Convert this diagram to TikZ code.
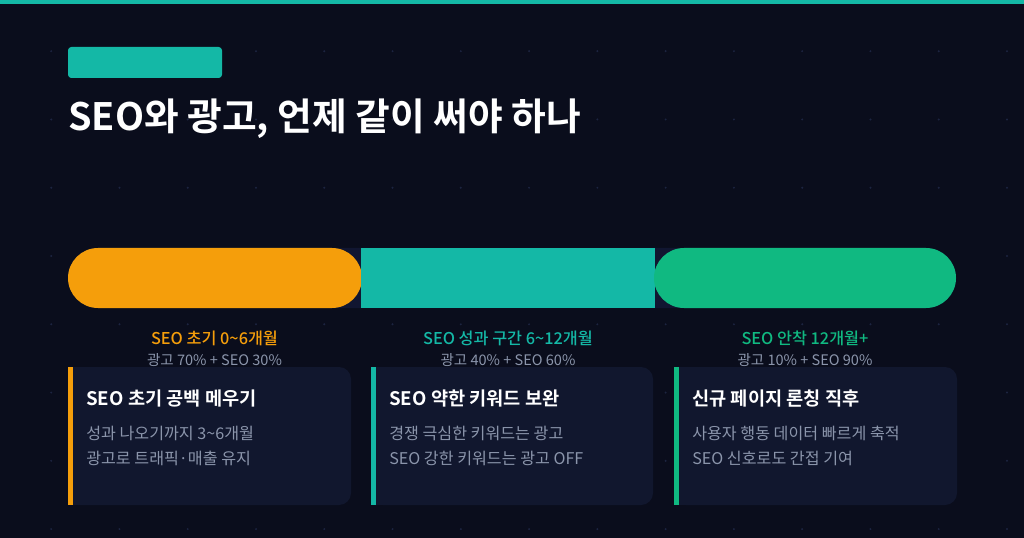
\documentclass[tikz,border=0pt]{standalone}
\usepackage{fontspec}
\setmainfont{Noto Sans CJK KR}[BoldFont={Noto Sans CJK KR Bold}]
\newfontfamily\medfont{Noto Sans CJK KR Medium}
\definecolor{bgc}{HTML}{0A0D1C}
\definecolor{dotc}{HTML}{1C2440}
\definecolor{trackc}{HTML}{111631}
\definecolor{cardc}{HTML}{11172E}
\definecolor{orangec}{HTML}{F59E0B}
\definecolor{tealc}{HTML}{14B8A6}
\definecolor{greenc}{HTML}{10B981}
\definecolor{grayc}{HTML}{8B95AB}
\tikzset{
  seglabel/.style={anchor=base, inner sep=0, font=\medfont\fontsize{12.2}{14}\selectfont},
  segsub/.style={anchor=base, inner sep=0, text=grayc, font=\fontsize{10.9}{13}\selectfont},
  cardtitle/.style={anchor=base west, inner sep=0, text=white, font=\bfseries\fontsize{14}{16}\selectfont},
  cardbody/.style={anchor=base west, inner sep=0, text=grayc, font=\fontsize{12.1}{14}\selectfont},
}
\begin{document}
\begin{tikzpicture}[x=0.75pt,y=-0.75pt]
\useasboundingbox (0,0) rectangle (1024,538);
\fill[bgc] (0,0) rectangle (1024,538);
% dot grid
\foreach \i in {0,...,14}{
  \foreach \j in {0,...,7}{
    \fill[dotc] ({51.2+68.27*\i},{51.2+68.27*\j}) circle (1.1);
  }
}
% top bar
\fill[tealc] (0,0) rectangle (1024,4);
% tag
\fill[tealc, rounded corners=2.5pt] (68,47) rectangle (222,78);
% title
\node[anchor=base west, inner sep=0, text=white, font=\bfseries\fontsize{28.3}{34}\selectfont] (title) at (68,131) {SEO와 광고, 언제 같이 써야 하나};
% timeline track
\fill[trackc, rounded corners=22.5pt] (68,248) rectangle (956,308);
\fill[orangec, rounded corners=22.5pt] (68,248) rectangle (362,308);
\fill[tealc] (361,248) rectangle (655,308);
\fill[greenc, rounded corners=22.5pt] (654,248) rectangle (956,308);
% segment labels
\node[seglabel, text=orangec] (l1) at (214.5,344) {SEO 초기 0\textasciitilde 6개월};
\node[segsub] (s1) at (214.5,365) {광고 70\% + SEO 30\%};
\node[seglabel, text=tealc] (l2) at (508,344) {SEO 성과 구간 6\textasciitilde 12개월};
\node[segsub] (s2) at (508,365) {광고 40\% + SEO 60\%};
\node[seglabel, text=greenc] (l3) at (805,344) {SEO 안착 12개월+};
\node[segsub] (s3) at (805,365) {광고 10\% + SEO 90\%};
% cards
\foreach \xa/\xb/\col in {68/351/orangec, 371/653/tealc, 674/957/greenc}{
  \fill[cardc, rounded corners=9pt] (\xa,367) rectangle (\xb,505);
  \fill[cardc] (\xa,367) rectangle (\xa+20,505);
  \fill[\col] (\xa,367) rectangle (\xa+4.5,505);
}
\node[cardtitle] (c1t) at (86,405) {SEO 초기 공백 메우기};
\node[cardbody] (c1a) at (86,439) {성과 나오기까지 3\textasciitilde 6개월};
\node[cardbody] (c1b) at (86,464) {광고로 트래픽·매출 유지};
\node[cardtitle] (c2t) at (389,405) {SEO 약한 키워드 보완};
\node[cardbody] (c2a) at (389,439) {경쟁 극심한 키워드는 광고};
\node[cardbody] (c2b) at (389,464) {SEO 강한 키워드는 광고 OFF};
\node[cardtitle] (c3t) at (692,405) {신규 페이지 론칭 직후};
\node[cardbody] (c3a) at (692,439) {사용자 행동 데이터 빠르게 축적};
\node[cardbody] (c3b) at (692,464) {SEO 신호로도 간접 기여};
\end{tikzpicture}
\end{document}
